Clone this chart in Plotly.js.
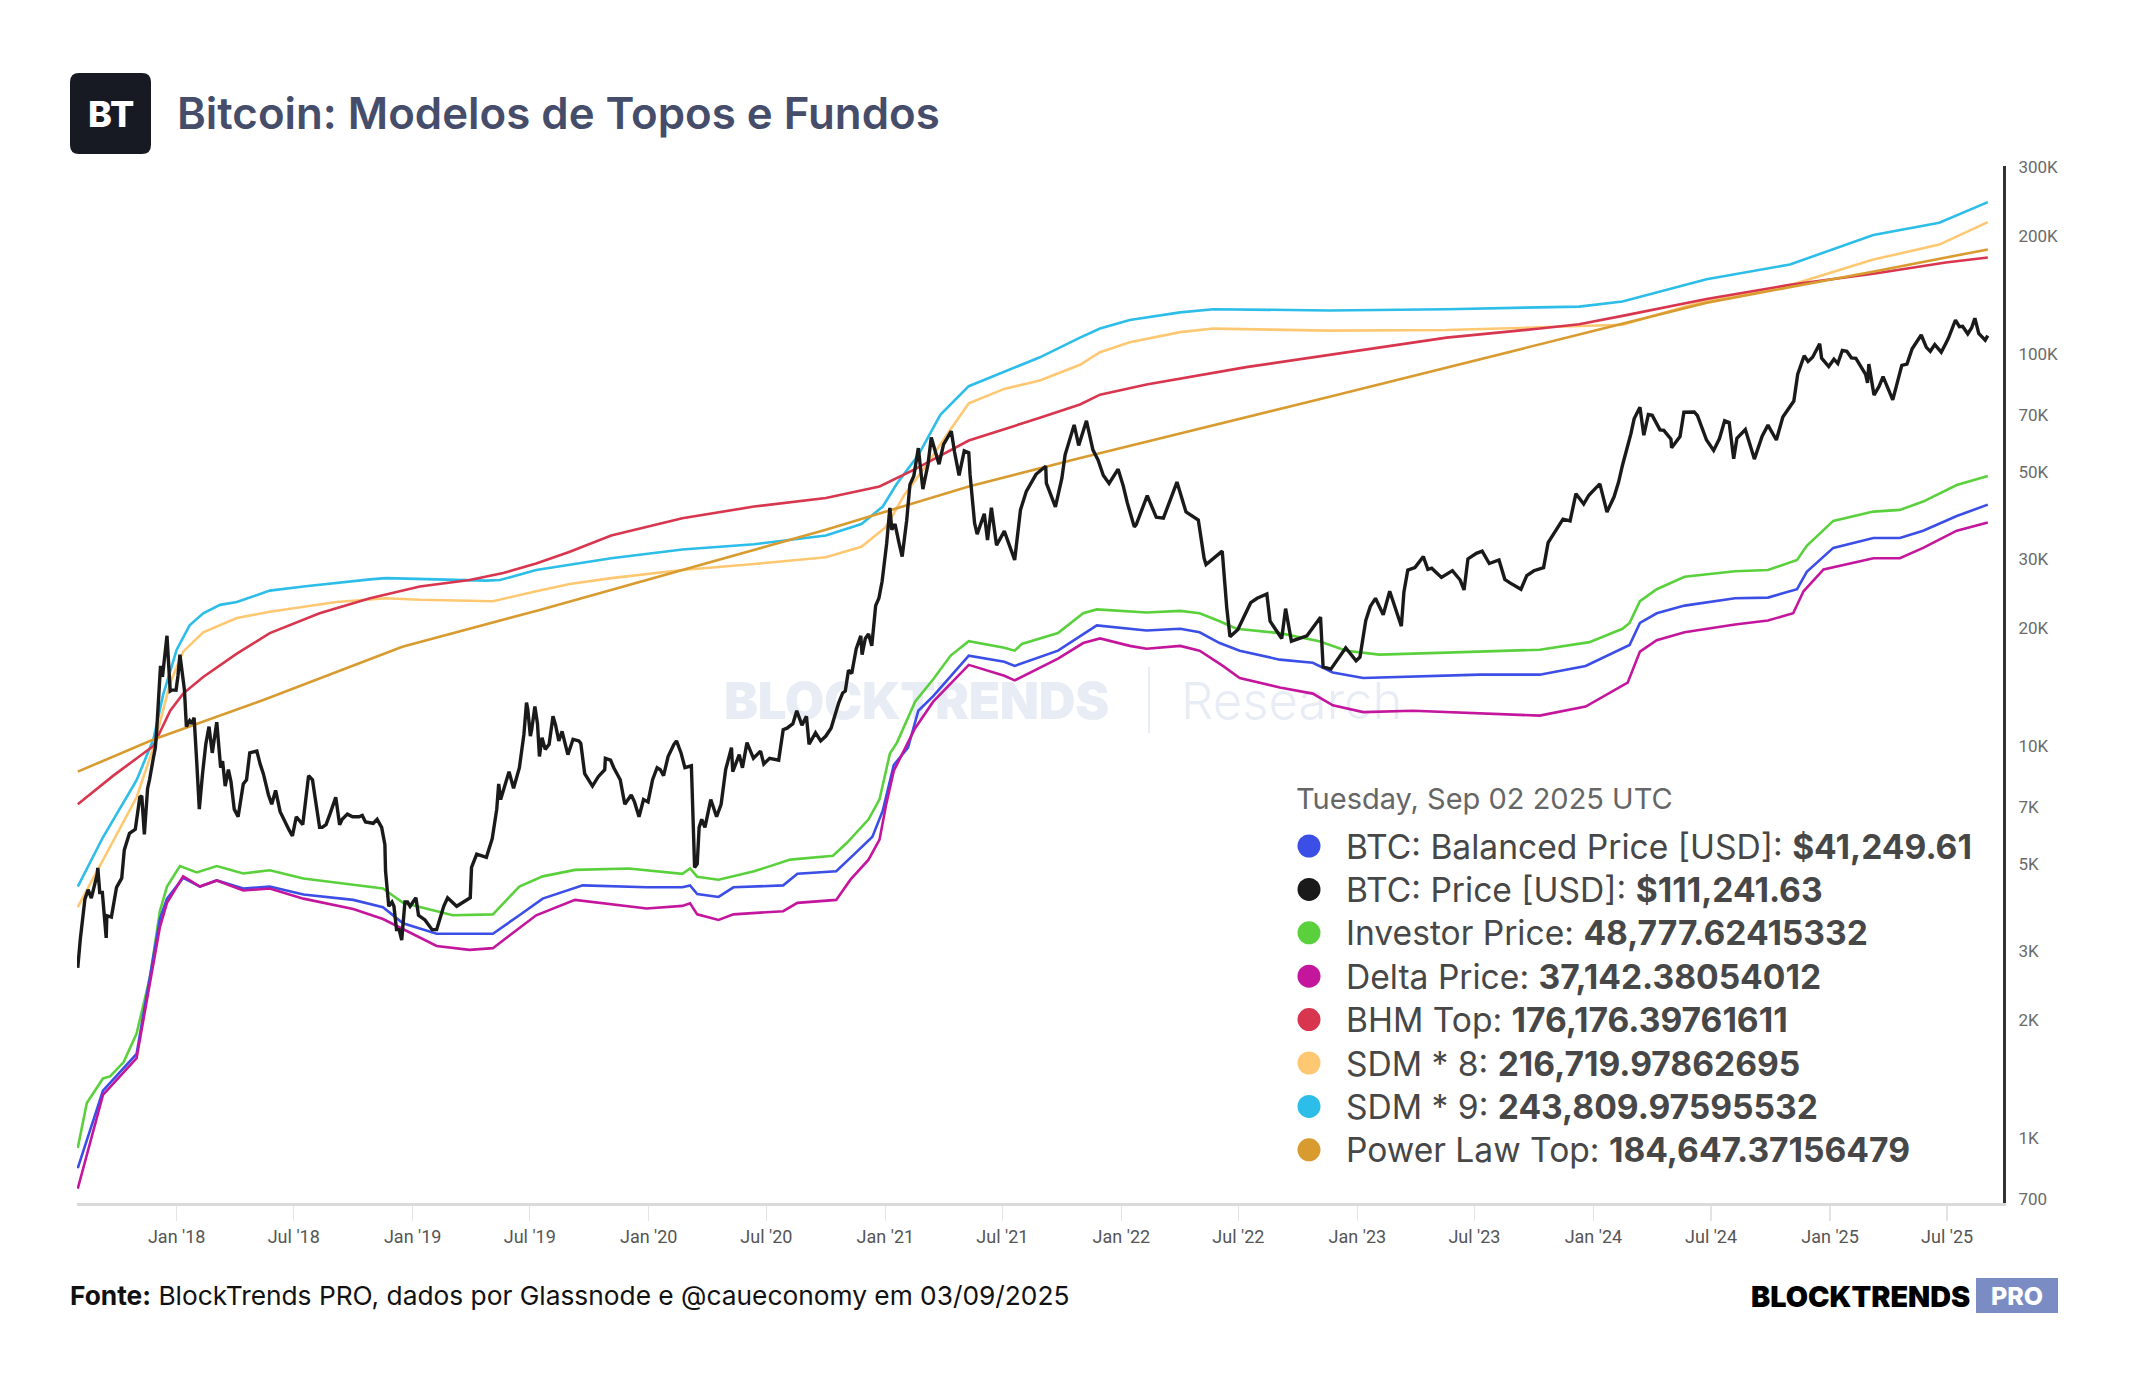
<!DOCTYPE html>
<html>
<head>
<meta charset="utf-8">
<script src="https://cdn.plot.ly/plotly-3.0.1.min.js"></script>
<style>
  html, body { margin:0; padding:0; background:#ffffff; }
  #wrap { position:relative; width:2144px; height:1400px; overflow:hidden; background:#ffffff; }
  #wm { position:absolute; left:0; top:0; width:2144px; height:1400px; z-index:0; }
  #wm span { position:absolute; line-height:1; white-space:nowrap; color:#e8edf5; font-family:Inter, "Noto Sans", sans-serif; }
  #chart { position:absolute; left:0; top:0; width:2144px; height:1400px; z-index:1; }
</style>
</head>
<body>
<div id="wrap">
  <div id="wm">
    <span style="left:724px; top:675px; font-size:51px; font-weight:900; letter-spacing:-0.3px;">BLOCKTRENDS</span>
    <span style="left:1148px; top:667px; width:2px; height:66px; background:#e8edf5;"></span>
    <span style="left:1181px; top:675px; font-size:51px; font-weight:300;">Research</span>
  </div>
  <div id="chart"></div>
</div>
<script>
// ---------------- DATA ----------------
const priceDates = [
'2017-08-01','2017-08-05','2017-08-12','2017-08-17','2017-08-22','2017-08-31','2017-09-01','2017-09-04','2017-09-08','2017-09-14','2017-09-15','2017-09-22','2017-09-30','2017-10-08','2017-10-12','2017-10-20','2017-10-29','2017-11-05','2017-11-08','2017-11-12','2017-11-17','2017-11-20','2017-11-26','2017-11-29','2017-12-01','2017-12-07','2017-12-10','2017-12-13','2017-12-17','2017-12-22','2017-12-25','2017-12-31',
'2018-01-03','2018-01-06','2018-01-10','2018-01-13','2018-01-16','2018-01-21','2018-01-24','2018-01-28','2018-02-01','2018-02-05','2018-02-10','2018-02-15','2018-02-20','2018-02-25','2018-03-04','2018-03-10','2018-03-13','2018-03-17','2018-03-22','2018-03-26','2018-03-31','2018-04-06','2018-04-14','2018-04-19','2018-04-24','2018-05-05','2018-05-10','2018-05-15','2018-05-23','2018-05-28','2018-06-03','2018-06-10','2018-06-24','2018-06-29','2018-07-05','2018-07-15','2018-07-24','2018-07-30','2018-08-03','2018-08-10','2018-08-14','2018-08-20','2018-08-26','2018-09-04','2018-09-10','2018-09-14','2018-09-22','2018-09-30','2018-10-10','2018-10-15','2018-10-20','2018-11-01','2018-11-07','2018-11-14','2018-11-19','2018-11-20','2018-11-25','2018-11-30','2018-12-03','2018-12-07','2018-12-11','2018-12-15','2018-12-20','2018-12-24','2018-12-28',
'2019-01-06','2019-01-10','2019-01-20','2019-01-31','2019-02-07','2019-02-18','2019-02-24','2019-03-10','2019-03-31','2019-04-02','2019-04-10','2019-04-25','2019-05-04','2019-05-11','2019-05-14','2019-05-17','2019-05-30','2019-06-06','2019-06-15','2019-06-22','2019-06-26','2019-06-28','2019-07-02','2019-07-04','2019-07-09','2019-07-13','2019-07-16','2019-07-20','2019-07-25','2019-07-31','2019-08-06','2019-08-10','2019-08-15','2019-08-20','2019-08-29','2019-09-06','2019-09-15','2019-09-18','2019-09-24','2019-10-06','2019-10-15','2019-10-25','2019-10-26','2019-11-03','2019-11-08','2019-11-18','2019-11-25','2019-12-05','2019-12-10','2019-12-17','2019-12-24','2019-12-31',
'2020-01-07','2020-01-14','2020-01-19','2020-01-24','2020-01-31','2020-02-09','2020-02-13','2020-02-20','2020-02-26','2020-03-07','2020-03-12','2020-03-16','2020-03-19','2020-03-23','2020-03-28','2020-04-06','2020-04-15','2020-04-22','2020-04-29','2020-05-08','2020-05-10','2020-05-20','2020-05-25','2020-06-01','2020-06-11','2020-06-22','2020-06-27','2020-07-06','2020-07-13','2020-07-20','2020-07-27','2020-08-02','2020-08-11','2020-08-17','2020-08-25','2020-09-01','2020-09-05','2020-09-15','2020-09-23','2020-10-01','2020-10-09','2020-10-21','2020-10-27','2020-10-31','2020-11-05','2020-11-10','2020-11-13','2020-11-17','2020-11-24','2020-11-26','2020-12-01','2020-12-06','2020-12-11','2020-12-17','2020-12-22','2020-12-27',
'2021-01-03','2021-01-08','2021-01-11','2021-01-16','2021-01-22','2021-01-27','2021-02-03','2021-02-08','2021-02-14','2021-02-21','2021-02-28','2021-03-08','2021-03-13','2021-03-18','2021-03-25','2021-04-01','2021-04-13','2021-04-18','2021-04-25','2021-05-03','2021-05-10','2021-05-12','2021-05-19','2021-05-23','2021-06-03','2021-06-08','2021-06-14','2021-06-22','2021-07-04','2021-07-20','2021-07-29','2021-08-07','2021-08-22','2021-09-06','2021-09-07','2021-09-21','2021-10-01','2021-10-06','2021-10-15','2021-10-20','2021-10-27','2021-11-08','2021-11-18','2021-11-26','2021-12-04','2021-12-13','2021-12-27',
'2022-01-04','2022-01-10','2022-01-21','2022-01-24','2022-02-10','2022-02-24','2022-03-07','2022-03-28','2022-04-11','2022-04-30','2022-05-09','2022-05-12','2022-06-06','2022-06-13','2022-06-18','2022-06-30','2022-07-20','2022-07-30','2022-08-14','2022-08-19','2022-09-06','2022-09-12','2022-09-21','2022-10-15','2022-11-05','2022-11-09','2022-11-21','2022-12-14','2022-12-30',
'2023-01-05','2023-01-14','2023-01-21','2023-01-29','2023-02-10','2023-02-16','2023-02-20','2023-03-10','2023-03-14','2023-03-20','2023-03-31','2023-04-13','2023-04-20','2023-04-26','2023-05-11','2023-05-28','2023-06-09','2023-06-15','2023-06-21','2023-07-04','2023-07-13','2023-07-24','2023-08-08','2023-08-17','2023-08-25','2023-09-11','2023-09-20','2023-10-01','2023-10-16','2023-10-23','2023-11-09','2023-11-15','2023-11-26','2023-12-05','2023-12-17','2023-12-25',
'2024-01-02','2024-01-11','2024-01-22','2024-02-02','2024-02-09','2024-02-15','2024-02-28','2024-03-04','2024-03-13','2024-03-19','2024-03-26','2024-04-01','2024-04-13','2024-04-19','2024-04-30','2024-05-01','2024-05-14','2024-05-20','2024-06-05','2024-06-10','2024-06-24','2024-07-05','2024-07-14','2024-07-22','2024-07-29','2024-08-05','2024-08-10','2024-08-23','2024-09-06','2024-09-18','2024-09-27','2024-10-10','2024-10-20','2024-10-29','2024-11-06','2024-11-12','2024-11-22','2024-11-28','2024-12-05','2024-12-16','2024-12-19','2024-12-30',
'2025-01-07','2025-01-13','2025-01-20','2025-01-27','2025-02-03','2025-02-10','2025-02-25','2025-02-28','2025-03-02','2025-03-10','2025-03-18','2025-03-24','2025-04-08','2025-04-22','2025-04-30','2025-05-08','2025-05-22','2025-05-30','2025-06-05','2025-06-12','2025-06-22','2025-06-30','2025-07-03','2025-07-14','2025-07-20','2025-07-25','2025-08-02','2025-08-08','2025-08-13','2025-08-19','2025-08-29','2025-09-02'];
const priceValues = [
2718,3220,4060,4300,4090,4700,4890,4230,4230,3240,3690,3660,4360,4600,5430,5990,6130,7400,7460,5950,7790,8200,9330,9890,10900,16000,15000,16400,19100,13800,13900,13880,
15100,17100,14900,13900,11200,11600,11400,11800,9100,6900,8500,10100,11200,9600,11500,8800,9150,7900,8700,8100,6900,6600,8000,8200,9600,9700,9000,8500,7500,7100,7700,6800,6100,5900,6600,6300,8400,8200,7400,6200,6200,6300,6700,7400,6300,6500,6700,6600,6600,6650,6400,6350,6500,6200,5600,4800,3900,4000,3900,3400,3400,3200,4000,4000,3900,
4100,3700,3600,3400,3400,3900,4100,3900,4100,4900,5300,5200,5800,6900,8000,7300,8600,7800,8800,10700,12900,12400,10600,11000,12600,11400,9400,10500,9800,10100,11900,11300,10300,10900,9500,10400,10300,10150,8500,7900,8350,8700,9300,9200,8800,8200,7100,7500,7200,6600,7300,7200,
8200,8800,8700,8400,9400,10100,10300,9600,8800,8900,4900,5000,6200,6500,6200,7300,6600,7100,8700,9900,8600,9500,8800,10200,9300,9700,9000,9300,9250,9200,11000,11100,11400,12300,11300,11900,10100,10800,10300,10600,11100,12900,13650,13800,15600,15300,16300,17700,19100,17100,18800,19300,18000,22800,23800,26300,
32800,40500,35600,36800,33000,30400,37600,46400,48800,57500,45200,52300,61200,57600,52300,58800,63500,56200,49000,56600,56000,49200,37000,34700,39100,33500,40500,32500,35300,29800,40000,44600,49300,51700,46800,40700,48200,55300,61600,65900,58400,67500,56900,53600,49000,46700,50800,
46000,41800,36200,36700,43500,38300,38100,47100,39500,37700,30100,29000,31400,22500,19000,19800,23200,23800,24400,20800,18800,22400,18500,19100,21300,15900,15700,17800,16500,
16850,20900,22700,23800,21600,23500,24800,20200,24700,28100,28500,30400,28200,28400,26900,28000,26500,25000,30000,31000,31400,29200,29800,26600,26050,25100,27200,27980,28500,33000,36700,37900,37500,44000,41400,43600,
45000,46600,39500,43200,47100,52000,62500,68300,73100,62000,70000,69700,64000,63800,60600,57600,61500,71000,71100,69600,60300,56700,60800,67500,66800,54000,60900,64100,53900,61700,65800,60300,69000,72700,75800,88700,98900,95600,98000,106100,97500,92800,
96900,94500,102000,101500,97700,97400,88700,84300,94200,78500,82700,87500,76300,93500,94200,103000,111700,103900,101500,105600,101000,107100,109600,122000,117300,117600,112500,116600,123300,112800,108400,111242];

const investorDates = ['2017-08-01','2017-08-15','2017-09-09','2017-09-20','2017-10-11','2017-10-31','2017-11-21','2017-12-06','2017-12-17','2018-01-06','2018-02-01','2018-03-04','2018-04-14','2018-05-25','2018-07-16','2018-10-01','2018-11-16','2018-12-17','2019-03-04','2019-05-05','2019-06-15','2019-07-21','2019-09-09','2019-12-01','2020-02-22','2020-03-05','2020-03-16','2020-04-18','2020-06-12','2020-08-07','2020-10-12','2020-11-03','2020-12-06','2020-12-23','2021-01-08','2021-01-19','2021-02-16','2021-03-16','2021-04-12','2021-05-10','2021-07-04','2021-07-20','2021-07-31','2021-09-25','2021-10-29','2021-11-03','2021-11-24','2022-02-09','2022-04-02','2022-05-02','2022-06-02','2022-06-28','2022-09-03','2022-11-03','2022-12-15','2023-02-04','2023-05-19','2023-08-04','2023-10-10','2023-12-26','2024-02-15','2024-02-26','2024-03-13','2024-04-08','2024-05-21','2024-08-07','2024-09-27','2024-11-11','2024-11-26','2025-01-06','2025-03-09','2025-04-19','2025-05-25','2025-07-16','2025-09-02'];
const investorValues = [944,1229,1419,1436,1563,1848,2585,3790,4380,4940,4760,4940,4730,4820,4590,4430,4330,3980,3700,3720,4380,4650,4830,4870,4720,4870,4640,4560,4790,5130,5250,5670,6500,7310,9560,10200,12970,14800,17000,18500,17800,17500,18200,19400,21500,21800,22300,21900,22100,21800,20800,19900,19400,18500,17500,17100,17300,17500,17600,18400,19900,20600,23400,25100,27000,27900,28100,29800,32400,37500,39600,40000,42000,46300,48778];

const balancedDates = ['2017-08-01','2017-09-09','2017-10-31','2017-12-06','2017-12-17','2018-01-11','2018-02-06','2018-03-04','2018-04-14','2018-05-25','2018-07-16','2018-10-01','2018-11-16','2018-12-17','2019-02-07','2019-05-05','2019-06-15','2019-07-21','2019-09-21','2019-12-29','2020-02-22','2020-03-05','2020-03-16','2020-04-18','2020-05-11','2020-07-27','2020-08-18','2020-10-17','2020-11-14','2020-12-12','2020-12-28','2021-01-14','2021-02-05','2021-02-21','2021-03-16','2021-05-10','2021-07-04','2021-07-20','2021-09-25','2021-10-29','2021-11-24','2022-02-09','2022-04-02','2022-05-02','2022-06-02','2022-07-03','2022-09-03','2022-10-24','2022-11-24','2023-01-10','2023-03-28','2023-07-09','2023-10-10','2023-12-20','2024-02-26','2024-03-13','2024-04-08','2024-05-21','2024-08-07','2024-09-27','2024-11-11','2024-11-26','2025-01-06','2025-03-09','2025-04-19','2025-05-25','2025-07-16','2025-09-02'];
const balancedValues = [838,1321,1639,3620,4080,4610,4380,4540,4330,4380,4180,4050,3880,3530,3320,3320,3700,4080,4410,4360,4360,4410,4190,4120,4360,4410,4720,4790,5300,5870,6840,8940,9900,12300,13400,17000,16400,16000,17500,19000,20300,19700,19900,19500,18300,17500,16600,16300,15400,14900,15000,15200,15200,16000,18100,20600,21800,22800,23800,23900,25100,27800,32000,33900,33900,35400,38600,41250];

const deltaDates = ['2017-08-01','2017-09-09','2017-10-31','2017-12-06','2017-12-17','2018-01-11','2018-02-06','2018-03-04','2018-04-14','2018-05-25','2018-07-16','2018-10-01','2018-11-16','2018-12-17','2019-02-07','2019-03-30','2019-05-05','2019-07-11','2019-09-09','2019-12-29','2020-02-22','2020-03-05','2020-03-16','2020-04-18','2020-05-11','2020-07-27','2020-08-18','2020-10-17','2020-11-08','2020-12-06','2020-12-23','2021-01-02','2021-01-14','2021-02-16','2021-03-16','2021-05-10','2021-07-04','2021-07-20','2021-09-25','2021-11-03','2021-11-29','2022-01-14','2022-02-09','2022-04-02','2022-05-02','2022-06-07','2022-07-03','2022-09-03','2022-10-24','2022-11-24','2023-01-10','2023-03-28','2023-07-09','2023-10-10','2023-12-20','2024-02-23','2024-03-13','2024-04-08','2024-05-21','2024-08-07','2024-09-27','2024-11-05','2024-11-21','2024-12-22','2025-03-09','2025-04-19','2025-05-25','2025-07-16','2025-09-02'];
const deltaValues = [743,1289,1600,3450,3980,4650,4380,4540,4280,4330,4080,3840,3620,3410,3090,3020,3050,3700,4050,3850,3910,3970,3720,3600,3720,3790,3980,4050,4560,5130,5770,7060,8640,11100,12970,16100,15100,14700,16700,18300,18800,18000,17700,18000,17500,16000,14900,14100,13600,12700,12200,12300,12100,11950,12600,14500,17400,18600,19500,20400,20900,21800,24800,28200,30100,30100,32000,35400,37142];

const bhmDates = ['2017-08-01','2017-09-25','2017-11-26','2017-12-22','2018-01-11','2018-02-11','2018-04-04','2018-05-25','2018-08-10','2018-10-27','2019-01-12','2019-03-30','2019-05-21','2019-07-11','2019-09-01','2019-11-04','2020-02-22','2020-06-12','2020-10-01','2020-12-23','2021-02-16','2021-05-10','2021-08-28','2021-10-29','2021-11-29','2022-02-09','2022-07-13','2022-12-15','2023-05-19','2023-10-10','2023-12-10','2024-02-15','2024-06-24','2024-10-31','2025-03-09','2025-06-29','2025-09-02'];
const bhmValues = [7100,8400,10000,12300,13600,15000,17200,19400,21800,23800,25500,26500,27600,29200,31300,34400,38100,40800,42900,45900,50800,60100,68700,74300,78700,83500,92500,101000,110000,116000,119000,125000,138000,150000,160000,171000,176176];

const sdm8Dates = ['2017-08-01','2017-10-31','2017-11-26','2017-12-22','2018-01-11','2018-02-11','2018-04-04','2018-05-25','2018-09-05','2018-11-21','2019-01-12','2019-05-05','2019-07-11','2019-09-01','2019-11-04','2020-02-22','2020-06-12','2020-10-01','2020-11-25','2021-01-02','2021-01-30','2021-03-04','2021-04-12','2021-05-10','2021-07-04','2021-08-28','2021-10-29','2021-11-29','2022-01-14','2022-04-02','2022-05-23','2022-11-19','2023-05-19','2023-10-10','2023-12-10','2024-02-15','2024-06-24','2024-10-31','2025-03-09','2025-06-19','2025-09-02'];
const sdm8Values = [3880,7400,9900,14500,17400,19500,21200,22000,23300,23800,23600,23400,24800,25900,26800,28100,29100,30300,32200,36200,43600,51600,64200,74800,81400,85500,93800,101000,107000,113600,116000,114600,115000,117000,117800,118600,136700,149700,174000,190000,216720];

const sdm9Dates = ['2017-08-01','2017-09-09','2017-10-31','2017-11-26','2017-12-11','2018-01-01','2018-01-21','2018-02-11','2018-03-09','2018-04-04','2018-05-25','2018-07-16','2018-10-27','2018-11-21','2019-04-24','2019-05-16','2019-07-11','2019-09-01','2019-11-04','2020-02-22','2020-06-12','2020-10-01','2020-11-25','2020-12-28','2021-01-19','2021-02-21','2021-03-27','2021-05-10','2021-07-04','2021-08-28','2021-10-29','2021-11-29','2022-01-14','2022-04-02','2022-05-23','2022-11-19','2023-05-19','2023-10-10','2023-12-10','2024-02-15','2024-06-24','2024-10-31','2025-03-09','2025-06-19','2025-09-02'];
const sdm9Values = [4380,5850,8180,10400,13500,17600,20300,21800,22900,23300,24900,25500,26600,26800,26400,26500,28100,29000,30100,31700,32700,34400,36800,40800,46700,55200,69900,82700,90000,98000,110000,116000,122000,127600,130000,129000,130000,131000,132000,136000,155000,169000,201000,216000,243810];

const powerLawDates = ['2017-08-01','2017-11-27','2018-05-15','2018-12-16','2019-07-15','2020-02-22','2020-10-01','2021-05-10','2021-10-28','2022-11-19','2023-10-09','2024-06-23','2025-03-08','2025-09-02'];
const powerLawValues = [8600,10400,13100,17900,22200,28100,35600,45900,54200,77700,105900,134900,162000,184647];

const seriesNames = ['BTC: Balanced Price [USD]','BTC: Price [USD]','Investor Price','Delta Price','BHM Top','SDM * 8','SDM * 9','Power Law Top'];
const legendValues = ['$41,249.61','$111,241.63','48,777.62415332','37,142.38054012','176,176.39761611','216,719.97862695','243,809.97595532','184,647.37156479'];
const seriesColors = ['#3b4ee6','#1a1a1a','#5ad13c','#c3169d','#d8354e','#fec872','#2cbde8','#d89b2f'];
const yTickVals = [700,1000,2000,3000,5000,7000,10000,20000,30000,50000,70000,100000,200000,300000];
const yTickText = ['700','1K','2K','3K','5K','7K','10K','20K','30K','50K','70K','100K','200K','300K'];
const legendDate = 'Tuesday, Sep 02 2025 UTC';

// ---------------- LAYOUT HELPERS ----------------
const PL = 77, PR = 2003, PT = 166, PB = 1203;
const px = X => (X - PL) / (PR - PL);
const py = Y => (PB - Y) / (PB - PT);

function line(x, y, name, color, width) {
  return { type:'scatter', mode:'lines', x:x, y:y, name:name,
           line:{color:color, width:width, shape:'linear'}, hoverinfo:'skip', showlegend:false };
}

const traces = [
  line(sdm9Dates, sdm9Values, seriesNames[6], seriesColors[6], 2.6),
  line(sdm8Dates, sdm8Values, seriesNames[5], seriesColors[5], 2.6),
  line(bhmDates, bhmValues, seriesNames[4], seriesColors[4], 2.6),
  line(powerLawDates, powerLawValues, seriesNames[7], seriesColors[7], 2.6),
  line(investorDates, investorValues, seriesNames[2], seriesColors[2], 2.6),
  line(balancedDates, balancedValues, seriesNames[0], seriesColors[0], 2.6),
  line(deltaDates, deltaValues, seriesNames[3], seriesColors[3], 2.6),
  line(priceDates, priceValues, seriesNames[1], seriesColors[1], 3.4)
];

const annotations = [];
const shapes = [];

function roundRect(X0, Y0, X1, Y1, r) {
  const x0 = px(X0), x1 = px(X1), yT = py(Y0), yB = py(Y1);
  const rx = r / (PR - PL), ry = r / (PB - PT);
  return `M ${x0+rx},${yT} L ${x1-rx},${yT} Q ${x1},${yT} ${x1},${yT-ry} L ${x1},${yB+ry} Q ${x1},${yB} ${x1-rx},${yB} L ${x0+rx},${yB} Q ${x0},${yB} ${x0},${yB+ry} L ${x0},${yT-ry} Q ${x0},${yT} ${x0+rx},${yT} Z`;
}
shapes.push({type:'path', xref:'paper', yref:'paper', path:roundRect(70, 73, 151, 154, 9), fillcolor:'#171a23', line:{width:0}, layer:'above'});
annotations.push({xref:'paper', yref:'paper', x:px(110.5), y:py(114), xanchor:'center', yanchor:'middle', showarrow:false,
  text:'BT', font:{family:'Inter, Roboto, sans-serif', size:36, color:'#ffffff', weight:800}});
annotations.push({xref:'paper', yref:'paper', x:px(175), y:py(114), xanchor:'left', yanchor:'middle', showarrow:false,
  text:'Bitcoin: Modelos de Topos e Fundos', font:{family:'Inter, Roboto, sans-serif', size:43.8, color:'#454d6a', weight:600}});

// Legend (tooltip-like)
annotations.push({xref:'paper', yref:'paper', x:px(1294), y:py(798), xanchor:'left', yanchor:'middle', showarrow:false,
  text:legendDate, font:{family:'Inter, Roboto, sans-serif', size:29, color:'#666666'}});
const rowY0 = 846, rowStep = 43.4, dotR = 11.5;
for (let i = 0; i < seriesNames.length; i++) {
  const Y = rowY0 + i * rowStep;
  shapes.push({type:'circle', xref:'paper', yref:'paper',
    x0:px(1309 - dotR), x1:px(1309 + dotR), y0:py(Y + dotR), y1:py(Y - dotR),
    fillcolor:seriesColors[i], line:{width:0}, layer:'above'});
  annotations.push({xref:'paper', yref:'paper', x:px(1344), y:py(Y), xanchor:'left', yanchor:'middle', showarrow:false,
    text:seriesNames[i] + ': <b>' + legendValues[i] + '</b>',
    font:{family:'Inter, Roboto, sans-serif', size:33.6, color:'#474747'}});
}

// Footer
annotations.push({xref:'paper', yref:'paper', x:px(68), y:py(1295), xanchor:'left', yanchor:'middle', showarrow:false,
  text:'<b>Fonte:</b> BlockTrends PRO, dados por Glassnode e @caueconomy em 03/09/2025',
  font:{family:'Inter, Roboto, sans-serif', size:26.3, color:'#111111'}});
annotations.push({xref:'paper', yref:'paper', x:px(1972), y:py(1296), xanchor:'right', yanchor:'middle', showarrow:false,
  text:'BLOCKTRENDS', font:{family:'Inter, Roboto, sans-serif', size:28.8, color:'#000000', weight:900}});
shapes.push({type:'rect', xref:'paper', yref:'paper', x0:px(1976), x1:px(2058), y0:py(1313), y1:py(1278),
  fillcolor:'#7b8cc4', line:{width:0}, layer:'above'});
annotations.push({xref:'paper', yref:'paper', x:px(2017), y:py(1296), xanchor:'center', yanchor:'middle', showarrow:false,
  text:'PRO', font:{family:'Inter, Roboto, sans-serif', size:25, color:'#ffffff', weight:800}});

const layout = {
  width:2144, height:1400,
  margin:{l:PL, r:2144-PR, t:PT, b:1400-PB, autoexpand:false},
  paper_bgcolor:'rgba(0,0,0,0)', plot_bgcolor:'rgba(0,0,0,0)',
  showlegend:false,
  xaxis:{
    type:'date', range:['2017-07-30 20:00','2025-09-25 12:00'],
    showgrid:false, zeroline:false,
    showline:true, linecolor:'#dadada', linewidth:3,
    ticks:'outside', ticklen:15, tickwidth:1.5, tickcolor:'#e4e4e4',
    tick0:'2018-01-01', dtick:'M6', tickformat:"%b '%y",
    tickfont:{family:'Roboto, sans-serif', size:18, color:'#555555'}
  },
  yaxis:{
    type:'log', side:'right', range:[2.8344, 5.4791],
    showgrid:false, zeroline:false,
    showline:true, linecolor:'#333333', linewidth:3,
    ticks:'outside', ticklen:9, tickcolor:'rgba(0,0,0,0)',
    tickvals:yTickVals, ticktext:yTickText,
    tickfont:{family:'Roboto, sans-serif', size:17, color:'#6a6a6a'}
  },
  annotations:annotations,
  shapes:shapes
};

Plotly.newPlot('chart', traces, layout, {staticPlot:true, displayModeBar:false});
</script>
</body>
</html>
